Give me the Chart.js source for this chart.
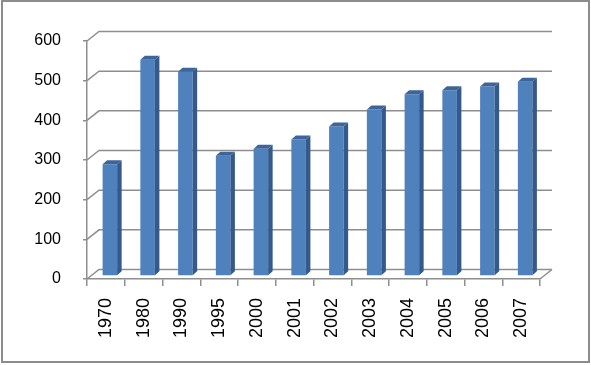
<!DOCTYPE html>
<html>
<head>
<meta charset="utf-8">
<script src="https://cdn.jsdelivr.net/npm/chart.js@4/dist/chart.umd.min.js"></script>
<style>
  html, body { margin: 0; padding: 0; background: #fff; }
  canvas { display: block; }
</style>
</head>
<body>
<canvas id="chart" width="591" height="365"></canvas>
<script>
const years = ['1970', '1980', '1990', '1995', '2000', '2001', '2002', '2003', '2004', '2005', '2006', '2007'];
const values = [282, 545, 515, 303, 321, 344, 377, 420, 458, 468, 478, 490];
const yTicks = [0, 100, 200, 300, 400, 500, 600];

const gridColor = '#8e8e8e';
const wallDx = 12, wallDy = -9.5;   // back wall offset
const barShiftX = 4, barShiftY = -3; // bars sit a bit into the floor
const barDx = 4.5, barDy = -4;       // bar depth

// draws the fake 3D: back wall grid, floor, bar sides and tops, frame
const threeD = {
  id: 'threeD',
  beforeDatasetsDraw(chart) {
    const { ctx, chartArea, scales } = chart;
    const { left, right, bottom } = chartArea;
    ctx.save();
    ctx.strokeStyle = gridColor;
    ctx.lineWidth = 1.5;
    yTicks.forEach(v => {
      const yp = scales.y.getPixelForValue(v);
      ctx.beginPath();
      ctx.moveTo(left, yp);
      ctx.lineTo(left + wallDx, yp + wallDy);
      ctx.lineTo(right + wallDx, yp + wallDy);
      ctx.stroke();
    });
    ctx.beginPath();
    ctx.moveTo(right, bottom);
    ctx.lineTo(right + wallDx, bottom + wallDy);
    ctx.stroke();
    ctx.restore();

    ctx.save();
    ctx.translate(barShiftX, barShiftY);
  },
  afterDatasetsDraw(chart) {
    const { ctx } = chart;
    chart.getDatasetMeta(0).data.forEach(bar => {
      const l = bar.x - bar.width / 2, r = bar.x + bar.width / 2;
      const t = bar.y, b = bar.base;
      ctx.fillStyle = '#34598a';
      ctx.beginPath();
      ctx.moveTo(r, t);
      ctx.lineTo(r + barDx, t + barDy);
      ctx.lineTo(r + barDx, b + barDy);
      ctx.lineTo(r, b);
      ctx.closePath();
      ctx.fill();
      ctx.fillStyle = '#3d659a';
      ctx.beginPath();
      ctx.moveTo(l, t);
      ctx.lineTo(l + barDx, t + barDy);
      ctx.lineTo(r + barDx, t + barDy);
      ctx.lineTo(r, t);
      ctx.closePath();
      ctx.fill();
    });
    ctx.restore();
  },
  afterDraw(chart) {
    const { ctx } = chart;
    ctx.save();
    ctx.strokeStyle = '#8c8c8c';
    ctx.lineWidth = 2;
    ctx.strokeRect(2, 1, 587, 361);
    ctx.restore();
  }
};

new Chart(document.getElementById('chart').getContext('2d'), {
  type: 'bar',
  data: {
    labels: years,
    datasets: [{
      data: values,
      backgroundColor: '#4f81bd',
      borderWidth: 0,
      barPercentage: 0.385,
      categoryPercentage: 1
    }]
  },
  options: {
    responsive: false,
    animation: false,
    layout: { padding: { left: 0, top: 41, right: 51, bottom: 0 } },
    plugins: { legend: { display: false }, tooltip: { enabled: false } },
    scales: {
      x: {
        grid: { drawOnChartArea: false, drawTicks: true, tickLength: 7, color: gridColor, lineWidth: 1.5, offset: true },
        border: { color: gridColor, width: 1.5 },
        ticks: {
          minRotation: 90, maxRotation: 90, padding: 12,
          color: '#000', font: { family: 'Liberation Sans', size: 18 }
        },
        afterFit: s => { s.height = 86; }
      },
      y: {
        min: 0, max: 600,
        grid: { drawOnChartArea: false, drawTicks: true, tickLength: 4, color: gridColor, lineWidth: 1.5 },
        border: { color: gridColor, width: 1.5 },
        ticks: {
          stepSize: 100, padding: 22,
          color: '#000', font: { family: 'Liberation Sans', size: 16 }
        },
        afterFit: s => { s.width = 87; }
      }
    }
  },
  plugins: [threeD]
});
</script>
</body>
</html>
